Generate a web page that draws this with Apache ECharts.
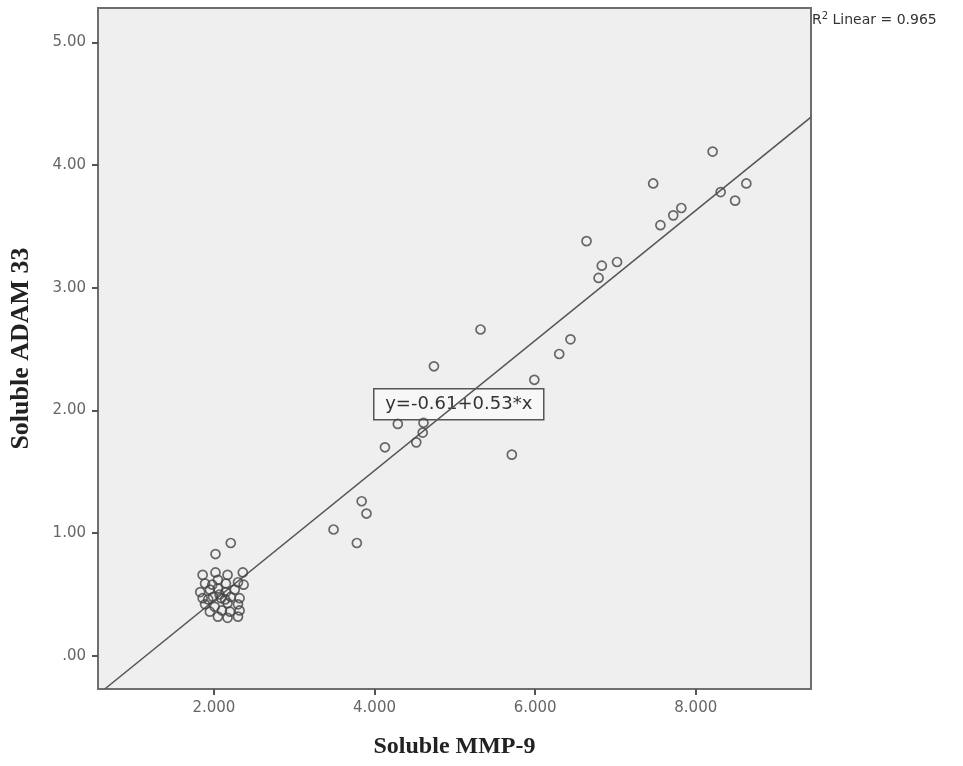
<!DOCTYPE html>
<html>
<head>
<meta charset="utf-8">
<script src="https://cdn.jsdelivr.net/npm/echarts@6/dist/echarts.min.js"></script>
<style>
  html, body { margin: 0; padding: 0; background: #fff; }
  #main { width: 963px; height: 766px; }
</style>
</head>
<body>
<div id="main"></div>
<script>
// Soluble MMP-9 (x) vs Soluble ADAM 33 (y)
const mmp9 = [
  8.21, 7.47, 8.63, 8.31, 8.49, 7.82, 7.72, 7.56, 6.64, 6.83, 7.02, 6.79,
  5.32, 6.44, 6.30, 4.74, 5.99, 4.29, 4.61, 4.60, 4.52, 4.13, 5.71,
  3.84, 3.90, 3.49, 3.78,
  2.02, 2.21,
  1.86, 2.02, 2.17, 2.36, 1.89, 2.05, 2.15, 2.30, 2.37,
  1.83, 1.95, 2.05, 2.15, 2.26, 1.86, 1.99, 2.09, 2.21, 2.32,
  1.89, 2.01, 2.17, 2.30, 1.95, 2.10, 2.20, 2.32, 2.05, 2.17, 2.30,
  1.98, 2.07, 1.93, 2.14
];
const adam33 = [
  4.11, 3.85, 3.85, 3.78, 3.71, 3.65, 3.59, 3.51, 3.38, 3.18, 3.21, 3.08,
  2.66, 2.58, 2.46, 2.36, 2.25, 1.89, 1.90, 1.82, 1.74, 1.70, 1.64,
  1.26, 1.16, 1.03, 0.92,
  0.83, 0.92,
  0.66, 0.68, 0.66, 0.68, 0.59, 0.62, 0.59, 0.60, 0.58,
  0.52, 0.54, 0.55, 0.52, 0.54, 0.47, 0.48, 0.47, 0.48, 0.47,
  0.42, 0.40, 0.43, 0.42, 0.36, 0.37, 0.36, 0.37, 0.32, 0.31, 0.32,
  0.58, 0.50, 0.46, 0.46
];
const xTicks = [2, 4, 6, 8];
const yTicks = [0, 1, 2, 3, 4, 5];
const fitIntercept = -0.61;
const fitSlope = 0.53;
const rSquared = 0.965;

const xMin = 0.557, xMax = 9.435, yMin = -0.27, yMax = 5.28;

const points = mmp9.map((x, i) => [x, adam33[i]]);
// fit line from the coefficients, clipped to the plot box
const xStart = (yMin - fitIntercept) / fitSlope;
const fitLine = [
  [xStart, fitIntercept + fitSlope * xStart],
  [xMax, fitIntercept + fitSlope * xMax]
];

var chart = echarts.init(document.getElementById('main'));
var option = {
  backgroundColor: '#ffffff',
  animation: false,
  grid: {
    left: 98, top: 8, right: 152, bottom: 77,
    show: true,
    backgroundColor: '#efefef',
    borderColor: '#6e6e6e',
    borderWidth: 2
  },
  xAxis: {
    type: 'value',
    min: xMin, max: xMax,
    name: 'Soluble MMP-9',
    nameLocation: 'middle',
    nameGap: 46,
    nameTextStyle: { fontFamily: 'Liberation Serif', fontWeight: 'bold', fontSize: 24, color: '#222' },
    splitLine: { show: false },
    axisLine: { show: true, onZero: false, lineStyle: { color: '#6e6e6e', width: 2 } },
    axisTick: { show: true, customValues: xTicks, length: 6, lineStyle: { color: '#555', width: 2 } },
    axisLabel: {
      customValues: xTicks, margin: 12,
      fontFamily: 'DejaVu Sans', fontSize: 15, color: '#666',
      formatter: v => v.toFixed(3)
    }
  },
  yAxis: {
    type: 'value',
    min: yMin, max: yMax,
    name: 'Soluble ADAM 33',
    nameLocation: 'middle',
    nameGap: 64,
    nameTextStyle: { fontFamily: 'Liberation Serif', fontWeight: 'bold', fontSize: 26, color: '#222' },
    splitLine: { show: false },
    axisLine: { show: true, onZero: false, lineStyle: { color: '#6e6e6e', width: 2 } },
    axisTick: { show: true, customValues: yTicks, length: 6, lineStyle: { color: '#555', width: 2 } },
    axisLabel: {
      customValues: yTicks, margin: 12,
      fontFamily: 'DejaVu Sans', fontSize: 15, color: '#666',
      formatter: v => (v === 0 ? '.00' : v.toFixed(2))
    }
  },
  series: [
    {
      type: 'line',
      data: fitLine,
      showSymbol: false,
      lineStyle: { color: '#555', width: 1.6 },
      z: 2
    },
    {
      type: 'scatter',
      data: points,
      symbol: 'circle',
      symbolSize: 9,
      itemStyle: { color: 'rgba(0,0,0,0)', borderColor: '#444', borderWidth: 1.7 },
      z: 3
    }
  ],
  graphic: [
    {
      type: 'group',
      left: 373, top: 388, z: 10,
      children: [
        { type: 'rect', shape: { x: 0, y: 0, width: 170, height: 31 },
          style: { fill: '#f7f7f7', stroke: '#555', lineWidth: 1.5 } },
        { type: 'text', x: 85, y: 16,
          style: { text: 'y=-0.61+0.53*x', fill: '#333', font: '18px "DejaVu Sans"',
                   align: 'center', verticalAlign: 'middle' } }
      ]
    },
    {
      type: 'text', left: 812, top: 11, z: 10,
      style: {
        text: '{a|R}{s|2}{a| Linear = ' + rSquared.toFixed(3) + '}',
        rich: {
          a: { fontFamily: 'DejaVu Sans', fontSize: 14, fill: '#333', verticalAlign: 'bottom' },
          s: { fontFamily: 'DejaVu Sans', fontSize: 10, fill: '#333', verticalAlign: 'top', padding: [0, 0, 6, 0] }
        }
      }
    }
  ]
};
option && chart.setOption(option);
</script>
</body>
</html>
